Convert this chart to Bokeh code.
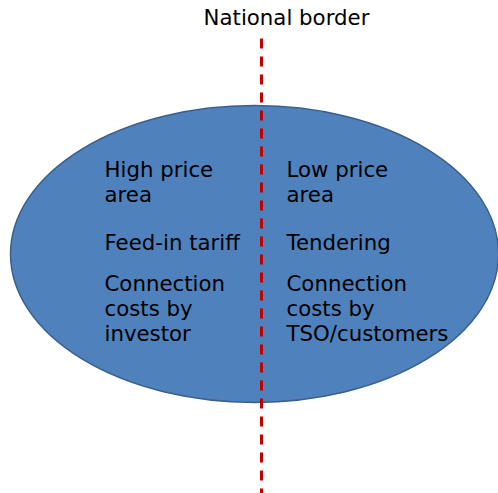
from bokeh.plotting import figure
from bokeh.models import Range1d, ColumnDataSource
from bokeh.core.properties import value
from bokeh.embed import file_html
from bokeh.resources import INLINE

# Diagram content
title_text = ["National border"]
left_lines = ["High price", "area", "Feed-in tariff", "Connection", "costs by", "investor"]
right_lines = ["Low price", "area", "Tendering", "Connection", "costs by", "TSO/customers"]
line_baselines = [169, 194, 242, 283, 308, 333]

# Page-pixel coordinate system
W, H = 498, 493
p = figure(width=W, height=H, output_backend="svg", toolbar_location=None,
           x_range=Range1d(0, W), y_range=Range1d(H, 0),
           min_border=0, outline_line_color=None)
p.axis.visible = False
p.grid.visible = False
p.background_fill_color = "white"
p.border_fill_color = "white"

# Ellipse
p.ellipse(x=[254], y=[253.5], width=[488], height=[297],
          fill_color="#4F81BD", line_color="#3A5F8C", line_width=1.5)

# Border line
p.line(x=[261, 261], y=[38, 493], line_color="#C00000", line_width=3,
       line_dash="10 8")

font = value("DejaVu Sans")
p.text(x=[286], y=[17], text=title_text, text_font=font, text_font_size="21.3px",
       text_align="center", text_baseline="alphabetic", text_color="#000000")

src_l = ColumnDataSource(dict(x=[104] * len(left_lines), y=line_baselines, t=left_lines))
src_r = ColumnDataSource(dict(x=[286] * len(right_lines), y=line_baselines, t=right_lines))
for s in (src_l, src_r):
    p.text(x="x", y="y", text="t", source=s, text_font=font, text_font_size="21.3px",
           text_align="left", text_baseline="alphabetic", text_color="#000000")

open("out.html", "w").write(file_html(p, INLINE))
